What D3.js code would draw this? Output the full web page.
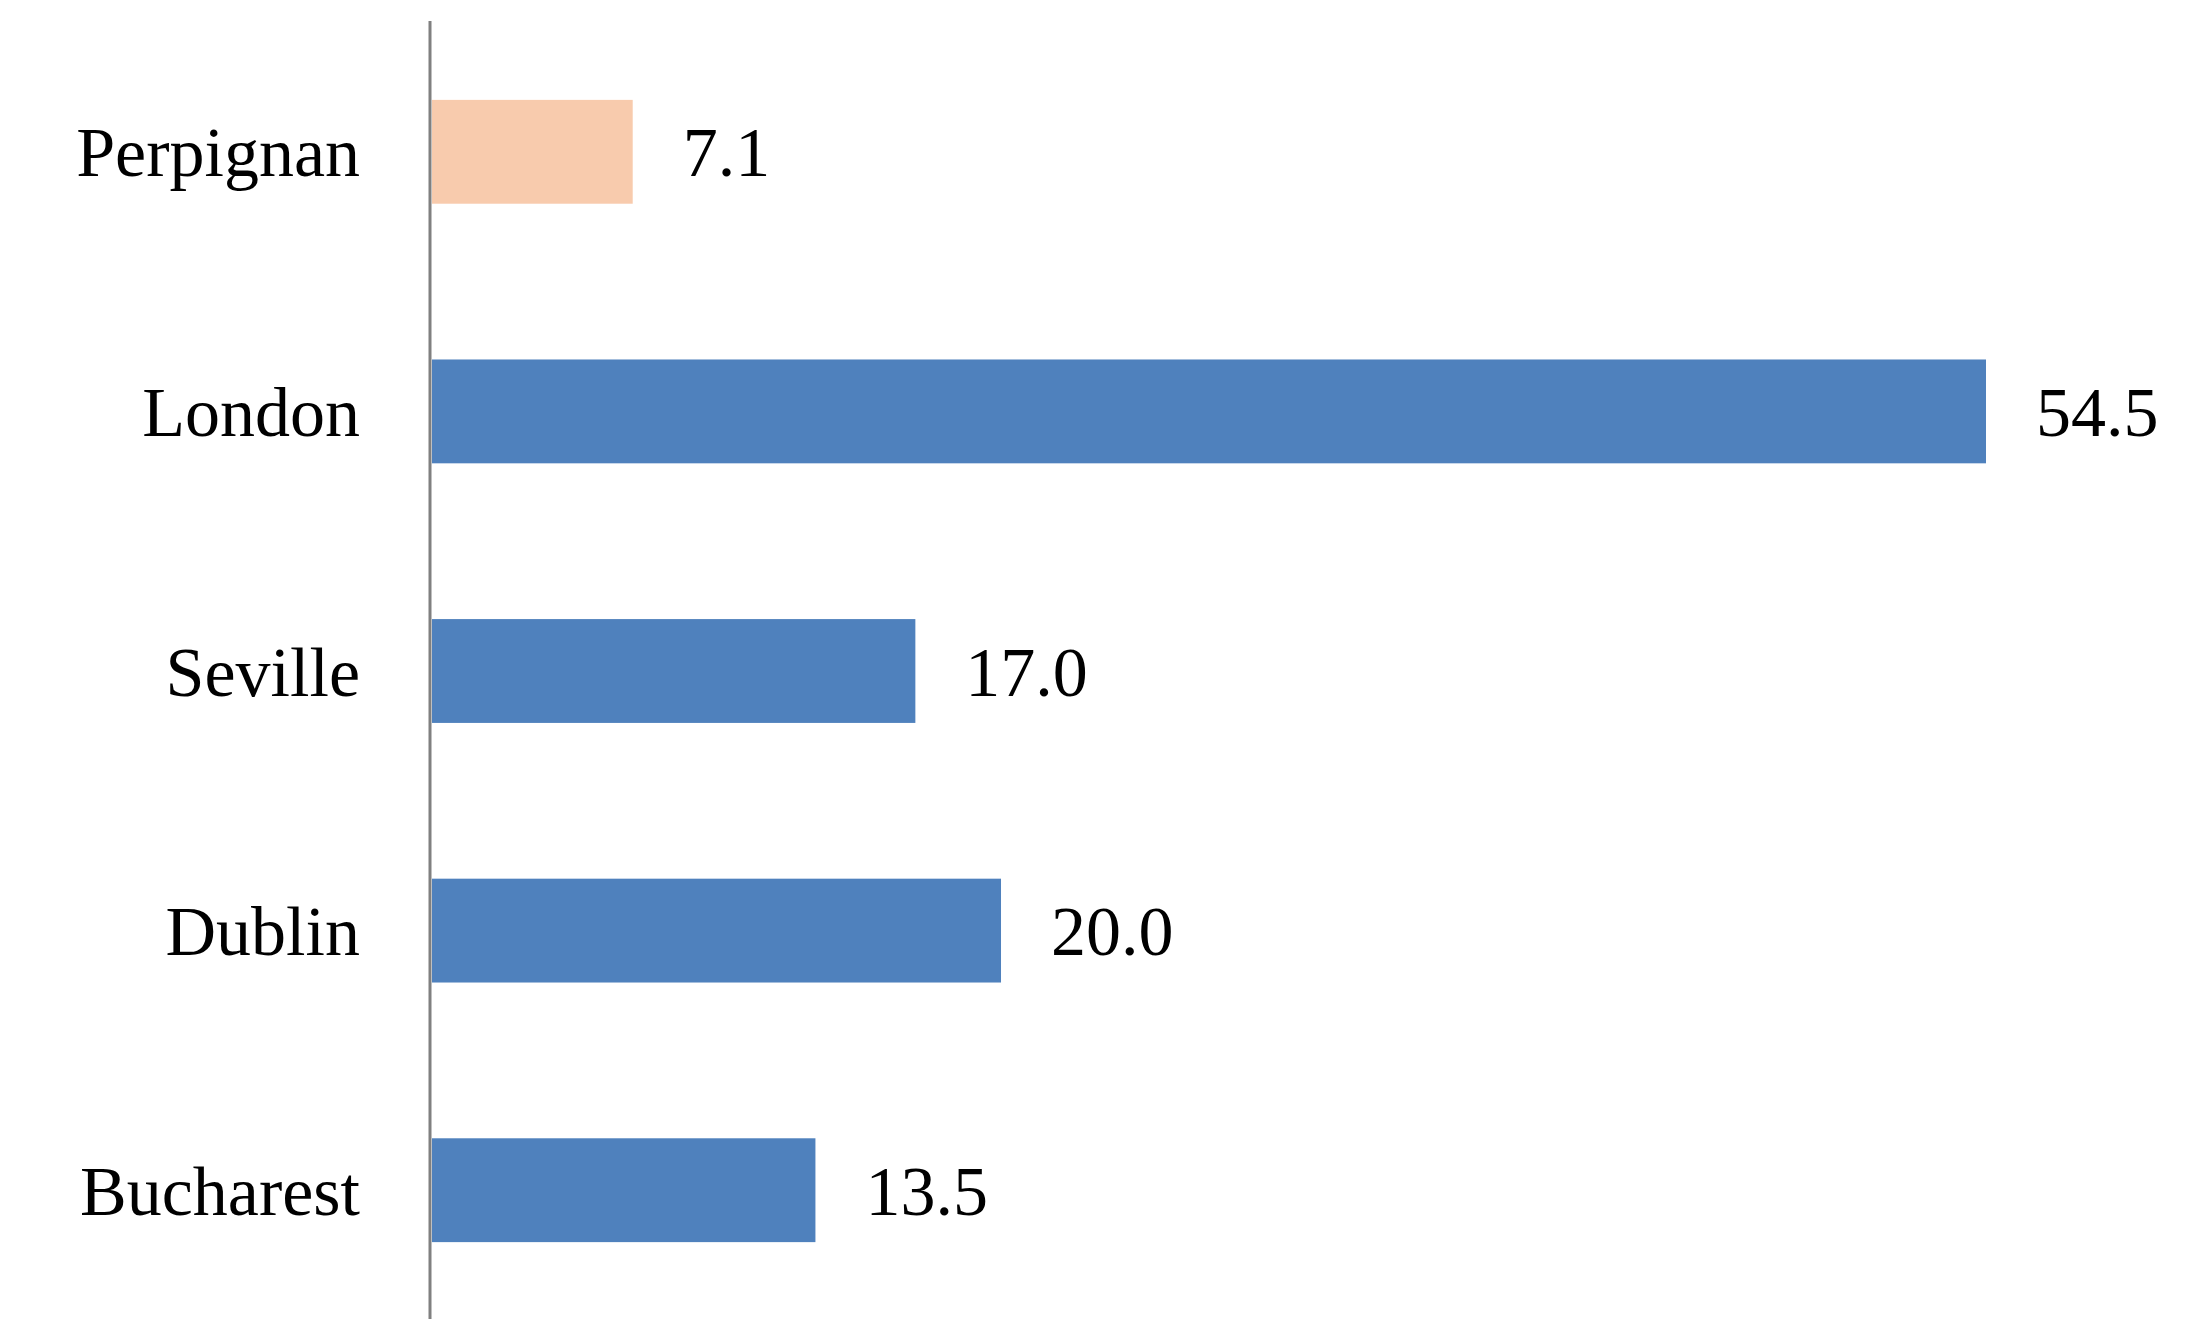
<!DOCTYPE html>
<html><head><meta charset="utf-8">
<script src="https://cdn.jsdelivr.net/npm/d3@7"></script>
<style>body{margin:0;background:#fff}</style></head>
<body><svg id="c" width="2188" height="1332"></svg>
<script>
const categories = ["Perpignan","London","Seville","Dublin","Bucharest"];
const values = [7.1,54.5,17.0,20.0,13.5];
const colors = ["#F8CBAD","#4F81BD","#4F81BD","#4F81BD","#4F81BD"];

const svg = d3.select("#c");
const x0 = 430;
const x = d3.scaleLinear().domain([0,54.5]).range([x0,1986]);
const y = d3.scaleBand().domain(categories).range([22,1320]).paddingInner(0.6).paddingOuter(0.3);

svg.selectAll("rect.bar").data(categories).join("rect")
  .attr("x",x0+2).attr("y",d=>y(d)).attr("height",y.bandwidth())
  .attr("width",(d,i)=>x(values[i])-x0-2).attr("fill",(d,i)=>colors[i]);

svg.append("line").attr("x1",x0).attr("x2",x0).attr("y1",21).attr("y2",1319)
  .attr("stroke","#808080").attr("stroke-width",3);

svg.selectAll("text.cat").data(categories).join("text")
  .attr("x",360).attr("y",d=>y(d)+y.bandwidth()/2).attr("dy","0.35em")
  .attr("text-anchor","end").attr("font-family","Liberation Serif").attr("font-size",70)
  .attr("fill","#000").text(d=>d);

svg.selectAll("text.val").data(values).join("text")
  .attr("x",v=>x(v)+50).attr("y",(v,i)=>y(categories[i])+y.bandwidth()/2).attr("dy","0.35em")
  .attr("font-family","Liberation Serif").attr("font-size",70)
  .attr("fill","#000").text(v=>v.toFixed(1));
</script></body></html>
